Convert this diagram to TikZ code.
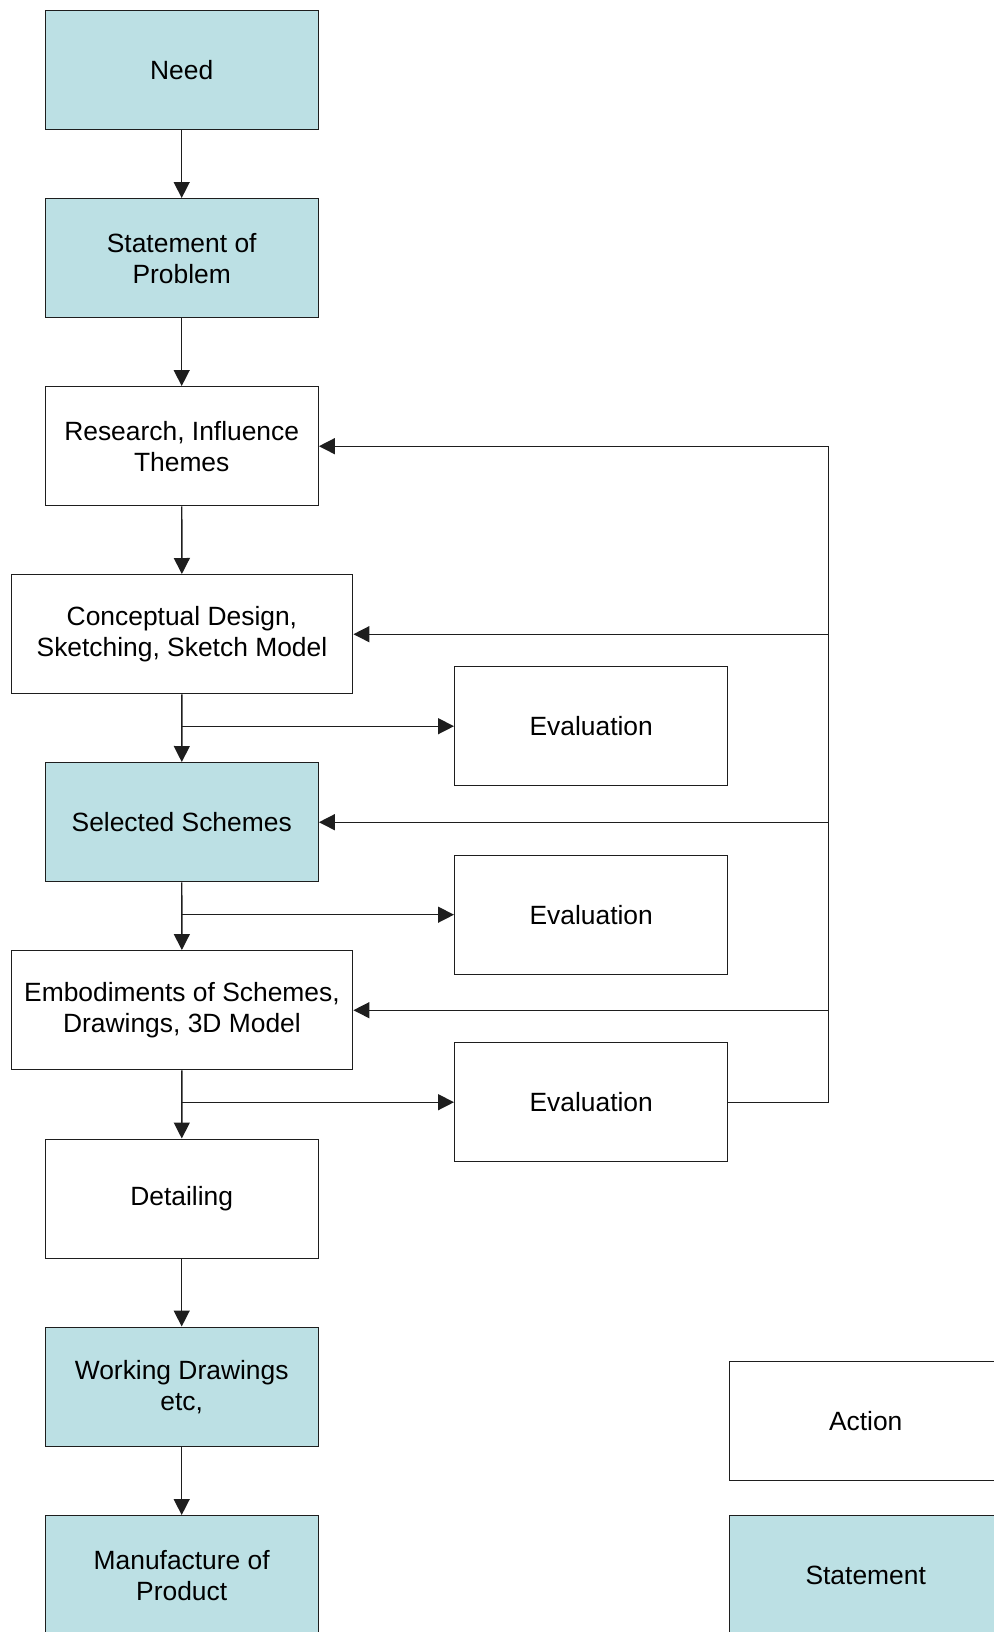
\documentclass[tikz,border=0pt]{standalone}
\usepackage{fontspec}
\setmainfont{Liberation Sans}
\usetikzlibrary{arrows.meta}
\definecolor{boxfill}{RGB}{188,224,228}
\definecolor{linegray}{RGB}{30,30,30}
\begin{document}
\begin{tikzpicture}[x=0.5pt,y=-0.5pt,
  box/.style={draw=linegray, line width=0.7pt, minimum width=136.5pt,
    minimum height=59.5pt, align=center, inner sep=0pt, anchor=north west,
    font=\fontsize{13.2}{15.5}\selectfont},
  widebox/.style={box, minimum width=170.75pt},
  filled/.style={fill=boxfill},
  flow/.style={draw=linegray, line width=0.7pt, -{Triangle[length=8pt,width=8pt]}},
  plain/.style={draw=linegray, line width=0.7pt}]
\useasboundingbox (0,0) rectangle (994,1632);
\clip (0,0) rectangle (994,1632);

% main chain
\node[box, filled] (need)     at (44.5,10)     {Need};
\node[box, filled] (stmt)     at (44.5,198)    {Statement of\\Problem};
\node[box]         (research) at (44.5,386)    {Research, Influence\\Themes};
\node[widebox]     (concept)  at (10.5,574)    {Conceptual Design,\\Sketching, Sketch Model};
\node[box, filled] (selected) at (44.5,762)    {Selected Schemes};
\node[widebox]     (embod)    at (10.5,950)    {Embodiments of Schemes,\\Drawings, 3D Model};
\node[box]         (detail)   at (44.5,1138.5) {Detailing};
\node[box, filled] (working)  at (44.5,1326.5) {Working Drawings\\etc,};
\node[box, filled] (manuf)    at (44.5,1515)   {Manufacture of\\Product};

% evaluation steps
\node[box] (eval1) at (454,666)   {Evaluation};
\node[box] (eval2) at (454,854.5) {Evaluation};
\node[box] (eval3) at (454,1042)  {Evaluation};

% key
\node[box]         (keyaction) at (728.5,1361) {Action};
\node[box, filled] (keystmt)   at (728.5,1515) {Statement};

% downward flow
\draw[flow] (need) -- (stmt);
\draw[flow] (stmt) -- (research);
\draw[flow] (research) -- (concept);
\draw[flow] (concept) -- (selected);
\draw[flow] (selected) -- (embod);
\draw[flow] (embod) -- (detail);
\draw[flow] (detail) -- (working);
\draw[flow] (working) -- (manuf);

% branches to evaluation
\draw[flow] (concept.south |- eval1.west) -- (eval1.west);
\draw[flow] (selected.south |- eval2.west) -- (eval2.west);
\draw[flow] (embod.south |- eval3.west) -- (eval3.west);

% feedback bus
\coordinate (bus) at (828.5,0);
\draw[flow] (eval3.east) -| (bus |- research.east) -- (research.east);
\draw[flow] (bus |- concept.east) -- (concept.east);
\draw[flow] (bus |- selected.east) -- (selected.east);
\draw[flow] (bus |- embod.east) -- (embod.east);
\end{tikzpicture}
\end{document}
